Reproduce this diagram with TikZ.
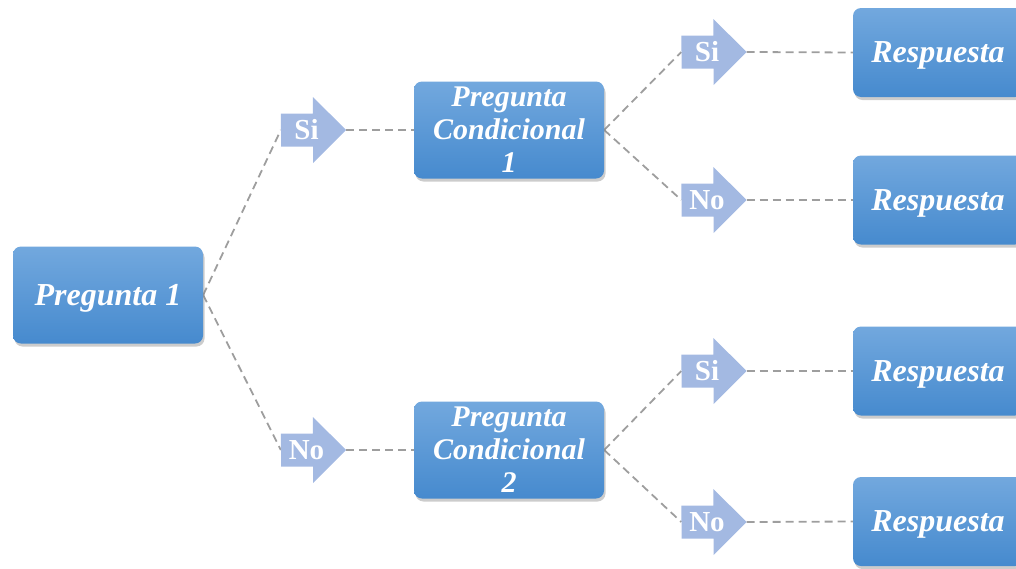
\documentclass[tikz,border=0pt]{standalone}
\usepackage{fontspec}
\setmainfont{Liberation Serif}
\usetikzlibrary{shadows,shadings,backgrounds}
\definecolor{cajaarriba}{RGB}{114,168,222}
\definecolor{cajaabajo}{RGB}{70,138,206}
\definecolor{flechacol}{RGB}{163,185,226}
\definecolor{lineacol}{RGB}{158,158,158}
\tikzset{
  caja/.style={rounded corners=8pt, top color=cajaarriba, bottom color=cajaabajo,
    minimum width=190pt, minimum height=97pt, inner sep=0pt, text=white, align=center,
    font=\fontsize{30}{33}\selectfont\bfseries\itshape,
    drop shadow={shadow xshift=1.5pt, shadow yshift=-3pt, opacity=0.4}},
  cajauna/.style={caja, font=\fontsize{32}{34}\selectfont\bfseries\itshape, text depth=0pt},
  respuesta/.style={cajauna, minimum width=170pt, minimum height=89pt},
  flecha/.style={minimum width=65pt, minimum height=66pt, inner sep=0pt},
  etiq/.style={text=white, inner sep=0pt, font=\fontsize{29}{30}\selectfont\bfseries},
  linea/.style={lineacol, line width=1.8pt, dash pattern=on 8pt off 5pt}
}
\begin{document}
\begin{tikzpicture}[x=1pt,y=-1pt]
  \useasboundingbox (0,0) rectangle (1016,568);
  % cajas
  \node[cajauna] (p1) at (108,295) {Pregunta 1};
  \node[caja] (pc1) at (509,130) {Pregunta\\Condicional\\1};
  \node[caja] (pc2) at (509,450) {Pregunta\\Condicional\\2};
  \node[respuesta] (r1) at (938,52.5) {Respuesta};
  \node[respuesta] (r2) at (938,200) {Respuesta};
  \node[respuesta] (r3) at (938,371) {Respuesta};
  \node[respuesta] (r4) at (938,521.5) {Respuesta};
  % flechas
  \node[flecha] (si1) at (313.5,130) {};
  \node[flecha] (no1) at (313.5,450) {};
  \node[flecha] (si2) at (714,52) {};
  \node[flecha] (no2) at (714,200) {};
  \node[flecha] (si3) at (714,371) {};
  \node[flecha] (no3) at (714,522) {};
  \foreach \f/\t in {si1/Si,no1/No,si2/Si,no2/No,si3/Si,no3/No}{
    \fill[flechacol] (\f.west) ++(0,-16.5) -- ++(32,0) -- ++(0,-16.5) -- (\f.east)
      -- ++(-33,33) -- ++(0,-16.5) -- ++(-32,0) -- cycle;
    \node[etiq] (\f-t) at ([xshift=-7pt]\f.center) {\t};
  }
  % conectores
  \begin{scope}[on background layer]
    \draw[linea] (p1.east) -- (si1.west);
    \draw[linea] (p1.east) -- (no1.west);
    \draw[linea] (si1.east) -- (pc1.west);
    \draw[linea] (no1.east) -- (pc2.west);
    \draw[linea] (pc1.east) -- (si2.west);
    \draw[linea] (pc1.east) -- (no2.west);
    \draw[linea] (pc2.east) -- (si3.west);
    \draw[linea] (pc2.east) -- (no3.west);
    \draw[linea] (si2.east) -- (r1.west);
    \draw[linea] (no2.east) -- (r2.west);
    \draw[linea] (si3.east) -- (r3.west);
    \draw[linea] (no3.east) -- (r4.west);
  \end{scope}
\end{tikzpicture}
\end{document}
